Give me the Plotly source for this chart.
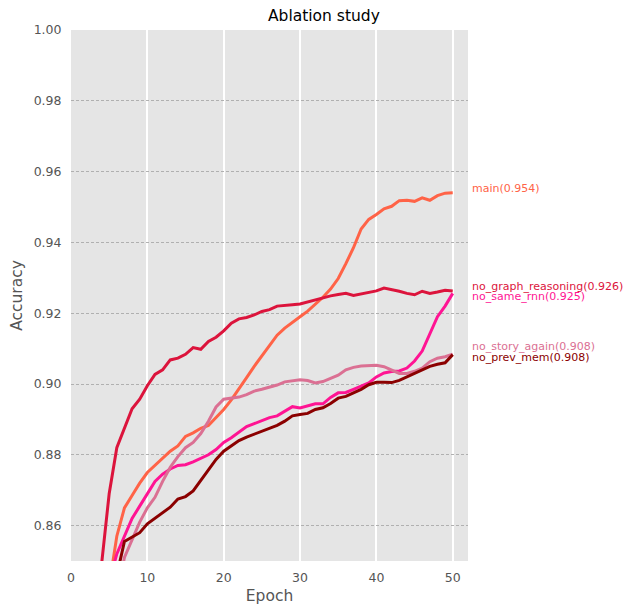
import plotly.graph_objects as go

epochs = list(range(1, 51))

main = [0.60, 0.70, 0.76, 0.81, 0.843, 0.857, 0.865, 0.8685, 0.872, 0.875,
        0.877, 0.879, 0.881, 0.8825, 0.8852, 0.8862, 0.8875, 0.8883, 0.8905, 0.8928,
        0.8955, 0.8985, 0.9018, 0.905, 0.908, 0.911, 0.9138, 0.9158, 0.9175, 0.919,
        0.9206, 0.9225, 0.9245, 0.9268, 0.9298, 0.934, 0.9385, 0.9438, 0.9465, 0.9479,
        0.9495, 0.9502, 0.9518, 0.9519, 0.9516, 0.9526, 0.9519, 0.9532, 0.9539, 0.9540]

no_graph_reasoning = [0.70, 0.76, 0.82, 0.849, 0.869, 0.882, 0.8875, 0.893, 0.8957, 0.8995,
                      0.9027, 0.904, 0.9068, 0.9073, 0.9084, 0.9103, 0.9098, 0.912, 0.9132, 0.915,
                      0.9172, 0.9184, 0.9188, 0.9195, 0.9205, 0.921, 0.922, 0.9223, 0.9224, 0.9226,
                      0.9232, 0.9237, 0.9245, 0.9249, 0.9253, 0.9256, 0.925, 0.9254, 0.9258, 0.9263,
                      0.9271, 0.9267, 0.9262, 0.9256, 0.9252, 0.9262, 0.9256, 0.926, 0.9265, 0.9263]

no_same_rnn = [0.60, 0.68, 0.75, 0.80, 0.844, 0.852, 0.857, 0.862, 0.8655, 0.869,
               0.8725, 0.8745, 0.876, 0.877, 0.8772, 0.878, 0.879, 0.880, 0.8815, 0.8835,
               0.8848, 0.8865, 0.888, 0.8888, 0.8897, 0.8905, 0.891, 0.8924, 0.8936, 0.8932,
               0.8938, 0.8944, 0.8944, 0.8962, 0.8975, 0.8976, 0.8985, 0.8994, 0.9003, 0.902,
               0.9031, 0.9035, 0.9037, 0.9045, 0.9065, 0.9093, 0.914, 0.919, 0.922, 0.9256]

no_story_again = [0.55, 0.63, 0.70, 0.76, 0.80, 0.84, 0.851, 0.856, 0.861, 0.865,
                  0.868, 0.8725, 0.8765, 0.8795, 0.882, 0.8835, 0.886, 0.8895, 0.8935, 0.8957,
                  0.896, 0.8963, 0.897, 0.898, 0.8985, 0.899, 0.8997, 0.9006, 0.901, 0.9012,
                  0.901, 0.9003, 0.9007, 0.9015, 0.9025, 0.904, 0.9047, 0.9051, 0.9052, 0.9053,
                  0.9049, 0.904, 0.903, 0.903, 0.9036, 0.9045, 0.9063, 0.9073, 0.9077, 0.9084]

no_prev_mem = [0.58, 0.66, 0.72, 0.77, 0.81, 0.846, 0.8555, 0.8568, 0.858, 0.8605,
               0.862, 0.8637, 0.8652, 0.8675, 0.8682, 0.8698, 0.8727, 0.8755, 0.8787, 0.881,
               0.8825, 0.884, 0.885, 0.8858, 0.8865, 0.8875, 0.8883, 0.8895, 0.891, 0.8914,
               0.8917, 0.8928, 0.8933, 0.8945, 0.896, 0.8965, 0.8975, 0.8985, 0.8998, 0.9005,
               0.9005, 0.9004, 0.901, 0.902, 0.9032, 0.9042, 0.905, 0.9056, 0.906, 0.9083]

series_names = ["main", "no_graph_reasoning", "no_same_rnn", "no_story_again", "no_prev_mem"]
series_values = [main, no_graph_reasoning, no_same_rnn, no_story_again, no_prev_mem]
final_labels = ["0.954", "0.926", "0.925", "0.908", "0.908"]

# styles
colors = ["#FF6347", "#DC143C", "#FF1493", "#DB7093", "#8B0000"]
label_shift = [4, 4, -3, 8, -3]

fig = go.Figure()
for name, vals, col in zip(series_names, series_values, colors):
    fig.add_trace(go.Scatter(x=epochs, y=vals, mode="lines", name=name,
                             line=dict(color=col, width=3)))

for name, vals, lab, col, sh in zip(series_names, series_values, final_labels, colors, label_shift):
    fig.add_annotation(x=1.005, xref="paper", y=vals[-1], yref="y",
                       text=f"{name}({lab})", showarrow=False,
                       xanchor="left", yanchor="middle", yshift=sh,
                       font=dict(family="DejaVu Sans", size=11, color=col))

fig.update_layout(
    width=628, height=598,
    margin=dict(l=63, r=168, t=22, b=45, autoexpand=False),
    paper_bgcolor="white", plot_bgcolor="#E5E5E5",
    showlegend=False,
    font=dict(family="DejaVu Sans", color="#555555"),
    title=dict(text="Ablation study", x=0.637, xref="paper", xanchor="center",
               y=1 - 7.5 / 598, yref="container", yanchor="middle",
               font=dict(family="DejaVu Sans", size=15.5, color="black")),
    xaxis=dict(range=[0, 52], dtick=10, tick0=0, showgrid=True, gridcolor="white",
               gridwidth=1.5, zeroline=False, showline=False,
               ticks="outside", ticklen=5, tickcolor="rgba(0,0,0,0)",
               tickfont=dict(size=12.5, color="#555555"),
               title=dict(text="Epoch", font=dict(size=15.5, color="#555555"), standoff=6)),
    yaxis=dict(range=[0.85, 1.0], dtick=0.02, tick0=0, tickformat=".2f", showgrid=True,
               gridcolor="#B0B0B0", gridwidth=0.8, griddash="3px,2px", zeroline=False,
               showline=False, ticks="outside", ticklen=6, tickcolor="rgba(0,0,0,0)",
               tickfont=dict(size=12.5, color="#555555"),
               title=dict(text="Accuracy", font=dict(size=15.5, color="#555555"), standoff=8)),
)

fig.write_html("out.html")
